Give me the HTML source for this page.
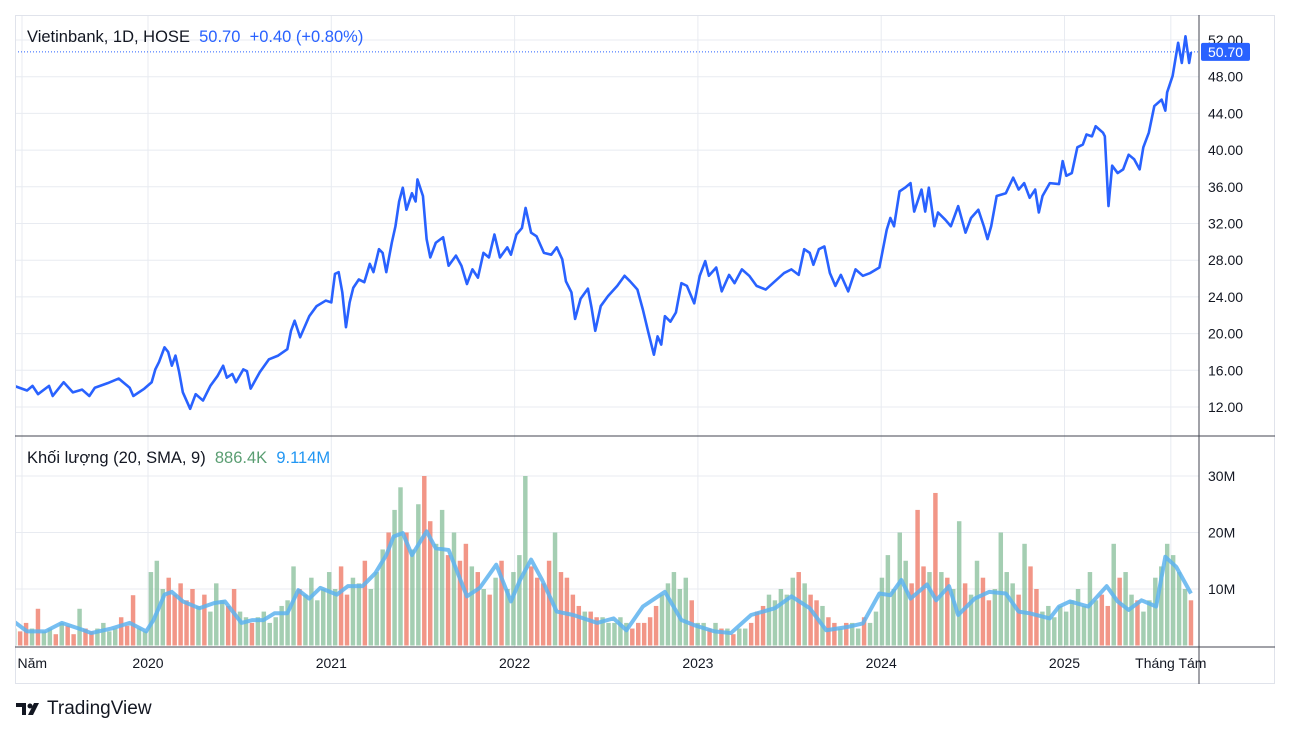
<!DOCTYPE html>
<html><head><meta charset="utf-8"><style>
body{margin:0;background:#fff;width:1289px;height:735px;overflow:hidden;font-family:"Liberation Sans","DejaVu Sans",sans-serif}
svg{position:absolute;left:0;top:0}
</style></head><body>
<svg id="c" width="1289" height="735"></svg>
<script>
const NS="http://www.w3.org/2000/svg";
// price series: [year, price]
const priceYears=[2019.27,2019.34,2019.37,2019.40,2019.46,2019.48,2019.54,2019.59,2019.64,2019.68,2019.71,2019.78,2019.84,2019.90,2019.92,2019.98,2020.02,2020.04,2020.06,2020.09,2020.11,2020.13,2020.15,2020.17,2020.19,2020.23,2020.26,2020.30,2020.34,2020.38,2020.41,2020.43,2020.46,2020.48,2020.52,2020.54,2020.56,2020.61,2020.66,2020.71,2020.76,2020.78,2020.80,2020.83,2020.88,2020.92,2020.97,2021.00,2021.02,2021.04,2021.06,2021.08,2021.10,2021.12,2021.15,2021.18,2021.21,2021.23,2021.26,2021.28,2021.30,2021.33,2021.35,2021.37,2021.39,2021.41,2021.44,2021.46,2021.47,2021.50,2021.52,2021.54,2021.57,2021.61,2021.64,2021.68,2021.71,2021.74,2021.77,2021.80,2021.83,2021.86,2021.89,2021.92,2021.96,2021.98,2022.01,2022.04,2022.06,2022.09,2022.12,2022.16,2022.20,2022.23,2022.26,2022.28,2022.31,2022.33,2022.36,2022.40,2022.42,2022.44,2022.47,2022.51,2022.56,2022.60,2022.63,2022.67,2022.70,2022.73,2022.76,2022.78,2022.80,2022.82,2022.85,2022.88,2022.91,2022.94,2022.98,2023.01,2023.04,2023.06,2023.10,2023.13,2023.17,2023.20,2023.24,2023.28,2023.32,2023.37,2023.42,2023.47,2023.51,2023.55,2023.58,2023.61,2023.63,2023.66,2023.69,2023.72,2023.75,2023.78,2023.82,2023.86,2023.90,2023.94,2023.99,2024.03,2024.05,2024.07,2024.10,2024.13,2024.16,2024.18,2024.22,2024.24,2024.26,2024.29,2024.31,2024.35,2024.38,2024.42,2024.46,2024.49,2024.53,2024.56,2024.58,2024.60,2024.63,2024.68,2024.72,2024.75,2024.78,2024.81,2024.84,2024.86,2024.88,2024.92,2024.97,2024.99,2025.01,2025.04,2025.07,2025.10,2025.12,2025.15,2025.17,2025.21,2025.22,2025.24,2025.26,2025.29,2025.32,2025.35,2025.38,2025.41,2025.43,2025.46,2025.49,2025.53,2025.55,2025.56,2025.59,2025.62,2025.64,2025.66,2025.68,2025.69];
const priceValues=[14.3,13.8,14.3,13.4,14.3,13.2,14.7,13.6,13.9,13.2,14.1,14.6,15.1,14.1,13.2,14.0,14.7,16.1,16.9,18.5,18.0,16.5,17.6,15.8,13.6,11.8,13.4,12.7,14.3,15.4,16.5,15.2,15.6,14.7,16.1,15.9,14.0,15.8,17.2,17.6,18.3,20.3,21.4,19.6,21.9,23.0,23.6,23.4,26.5,26.7,24.5,20.7,23.4,25.0,25.9,25.6,27.6,26.7,29.2,28.8,26.7,29.9,31.7,34.4,35.9,33.5,35.3,34.4,36.8,35.0,30.3,28.3,29.9,30.5,27.4,28.5,27.4,25.4,27.0,26.1,28.8,28.3,30.8,28.3,29.4,28.6,30.8,31.5,33.7,31.0,30.6,28.8,28.6,29.4,28.1,25.7,24.5,21.6,23.8,24.9,22.8,20.3,23.0,24.1,25.2,26.3,25.7,24.8,22.6,20.1,17.7,19.7,18.8,21.9,21.3,22.3,25.5,25.2,23.3,26.3,27.9,26.3,27.2,24.6,26.4,25.5,27.0,26.3,25.2,24.8,25.7,26.6,27.0,26.4,29.2,28.8,27.5,29.2,29.5,26.6,25.2,26.4,24.6,27.0,26.3,26.6,27.2,31.3,32.6,31.7,35.5,35.9,36.4,33.3,35.7,33.3,35.9,31.7,33.2,32.4,31.7,33.9,31.0,32.6,33.5,31.7,30.3,31.7,35.0,35.3,37.0,35.7,36.4,34.8,35.7,33.2,35.0,36.4,36.3,38.8,37.2,37.5,40.3,40.6,41.7,41.5,42.6,41.9,41.5,33.9,38.3,37.5,37.9,39.5,39.0,37.9,40.3,41.9,44.8,45.5,44.3,46.3,48.1,51.7,49.5,52.4,49.5,50.7];
// volume (millions), uniform step from 2019.27 to 2025.69
const volumeValues=[3,2.5,4,3,6.5,2.5,3,2,4,3.5,2,6.5,3,2.5,3,4,2.5,3,5,3.5,8.9,3,2.5,
13,15,10,12,9,11,
8,10,7,9,6,11,8,7,10,6,5,
4,5,6,4,5,7,
8,14,10,9,12,8,10,13,
10,14,9,12,11,15,10,13,17,
20,24,28,20,17,25,30,22,18,
24,16,20,15,18,14,13,10,9,
12,15,10,13,16,30,14,12,11,
15,20,13,12,9,7,6,6,5,
5,4,4,5,4,3,4,4,
5,7,9,11,13,10,12,8,
4,4,3,4,3,3,2,3,3,
4,6,7,9,8,10,9,12,13,
11,9,8,7,5,4,3,4,
4,3,5,4,6,
12,16,10,20,15,11,24,14,13,
27,13,12,10,22,11,9,15,12,
8,10,20,13,11,9,18,14,10,
6,7,5,
7,6,8,10,7,13,8,9,7,
18,12,13,9,8,6,8,12,
14,18,16,13,10,8];
const volStart=2019.27, volEnd=2025.69;
// volume SMA: [year, value]
const smaYears=[2019.27,2019.34,2019.44,2019.53,2019.65,2019.69,2019.80,2019.90,2019.99,2020.03,2020.09,2020.13,2020.19,2020.28,2020.36,2020.42,2020.51,2020.57,2020.63,2020.69,2020.76,2020.82,2020.88,2020.94,2021.03,2021.09,2021.17,2021.24,2021.30,2021.34,2021.39,2021.44,2021.52,2021.57,2021.64,2021.74,2021.81,2021.90,2021.98,2022.03,2022.09,2022.15,2022.23,2022.32,2022.45,2022.54,2022.61,2022.70,2022.82,2022.91,2022.98,2023.09,2023.18,2023.29,2023.42,2023.51,2023.61,2023.70,2023.82,2023.90,2023.99,2024.05,2024.11,2024.16,2024.25,2024.30,2024.37,2024.42,2024.51,2024.59,2024.68,2024.75,2024.81,2024.92,2024.97,2025.03,2025.13,2025.23,2025.29,2025.35,2025.42,2025.50,2025.55,2025.61,2025.69];
const smaValues=[4.2,2.5,2.5,4.0,2.7,2.2,3.0,4.0,2.5,4.5,9.0,9.5,7.8,6.6,7.5,7.8,4.0,4.5,4.5,5.7,5.7,9.8,8.3,10.2,9.0,10.5,10.5,12.8,16.0,19.3,19.9,16.0,20.2,17.2,16.9,8.7,10.2,14.3,7.8,11.6,15.2,11.6,6.0,5.4,4.0,4.8,2.7,6.9,9.5,4.5,3.6,2.5,2.2,5.4,6.6,8.7,6.6,2.7,3.3,3.9,9.2,8.9,11.6,8.3,10.8,8.0,10.5,5.4,8.3,9.5,9.2,6.0,5.7,4.8,6.9,7.8,6.9,10.5,7.8,6.3,8.0,6.9,15.7,13.9,9.2];
const priceTicks=[12,16,20,24,28,32,36,40,44,48,52];
const volTicks=[10,20,30];
const timeLabels=["ng Năm","2020","2021","2022","2023","2024","2025","Tháng Tám"];
const timeLabelYears=[2019.34,2020,2021,2022,2023,2024,2025,2025.58];

const xOf=t=>148+(t-2020)*183.3;
const yP=p=>40+(52-p)*9.175;
const yV=v=>645.5-v*5.65;
const svg=document.getElementById('c');
function el(tag,attrs,parent){const e=document.createElementNS(NS,tag);for(const k in attrs)e.setAttribute(k,attrs[k]);(parent||svg).appendChild(e);return e;}

const defs=el('defs',{});
const cp1=el('clipPath',{id:'cp'},defs);el('rect',{x:15,y:15,width:1184,height:421},cp1);
const cp2=el('clipPath',{id:'cv'},defs);el('rect',{x:15,y:437,width:1184,height:210},cp2);

const grid=el('g',{});


priceTicks.forEach(p=>el('line',{x1:15,x2:1199,y1:yP(p),y2:yP(p),stroke:'#e8ebf1','stroke-width':1},grid));
volTicks.forEach(v=>el('line',{x1:15,x2:1199,y1:yV(v),y2:yV(v),stroke:'#e8ebf1','stroke-width':1},grid));
timeLabelYears.forEach(t=>{const x=t<2020?22:xOf(t);el('line',{x1:x,x2:x,y1:15,y2:647,stroke:'#e8ebf1','stroke-width':1},grid);});

function priceAt(t){if(t<=priceYears[0])return priceValues[0];for(let i=1;i<priceYears.length;i++){if(t<=priceYears[i]){const f=(t-priceYears[i-1])/(priceYears[i]-priceYears[i-1]);return priceValues[i-1]+f*(priceValues[i]-priceValues[i-1]);}}return priceValues[priceValues.length-1];}

const vg=el('g',{'clip-path':'url(#cv)'});


const step=(volEnd-volStart)/(volumeValues.length-1);
const bw=step*183.3*0.75;
volumeValues.forEach((v,i)=>{const t=volStart+i*step;const up=priceAt(t)>=priceAt(t-step);
 const r=el('rect',{x:xOf(t)-bw/2,y:yV(v),width:bw,height:645.5-yV(v),fill:up?'#86bd98':'#ee735f','fill-opacity':0.75},vg);
 
 });

const sma=el('polyline',{points:smaYears.map((t,i)=>xOf(t)+','+yV(smaValues[i])).join(' '),fill:'none',stroke:'#5eb3ef','stroke-width':4,'stroke-opacity':0.85,'stroke-linejoin':'round','clip-path':'url(#cv)'});



const lastP=priceValues[priceValues.length-1];
el('line',{x1:15,x2:1199,y1:yP(lastP),y2:yP(lastP),stroke:'#2962ff','stroke-width':1,'stroke-dasharray':'1 2'});
const pl=el('polyline',{points:priceYears.map((t,i)=>xOf(t)+','+yP(priceValues[i])).join(' '),fill:'none',stroke:'#2962ff','stroke-width':2.6,'stroke-linejoin':'round','clip-path':'url(#cp)'});



el('rect',{x:15.5,y:15.5,width:1259,height:668,fill:'none',stroke:'#e0e3eb'});
el('line',{x1:15,x2:1275,y1:436,y2:436,stroke:'#434651','stroke-width':1});
el('line',{x1:15,x2:1275,y1:647,y2:647,stroke:'#434651','stroke-width':1});
el('line',{x1:1199,x2:1199,y1:15,y2:684,stroke:'#434651','stroke-width':1});

const ax=el('g',{'font-size':14,fill:'#131722'});


priceTicks.forEach(p=>{const t=el('text',{x:1208,y:yP(p)+5},ax);t.textContent=p.toFixed(2);});
volTicks.forEach(v=>{const t=el('text',{x:1208,y:yV(v)+5},ax);t.textContent=v+'M';});
const tag=el('rect',{x:1201,y:yP(lastP)-9,width:49,height:18,rx:2,fill:'#2962ff'});


const tt=el('text',{x:1208,y:yP(lastP)+5,fill:'#fff','font-size':14});tt.textContent=lastP.toFixed(2);

const tx=el('g',{'font-size':14,fill:'#131722','text-anchor':'middle'});


timeLabels.forEach((l,i)=>{const x=i===0?-2:xOf(timeLabelYears[i]);const t=el('text',{x:x,y:668},tx);if(i===0)t.setAttribute('text-anchor','start');t.textContent=l;});
el('rect',{x:0,y:648,width:15,height:36,fill:'#fff'});
</script>
<div style="position:absolute;left:27px;top:28px;font-size:16.5px;color:#131722;white-space:nowrap">Vietinbank, 1D, HOSE&nbsp;&nbsp;<span style="color:#2962ff">50.70&nbsp;&nbsp;+0.40 (+0.80%)</span></div>
<div style="position:absolute;left:27px;top:449px;font-size:16.5px;color:#131722;white-space:nowrap">Khối lượng (20, SMA, 9)&nbsp;&nbsp;<span style="color:#5a9e72">886.4K</span>&nbsp;&nbsp;<span style="color:#2196f3">9.114M</span></div>
<div style="position:absolute;left:16px;top:698px;font-size:19px;color:#131722;white-space:nowrap;display:flex;align-items:center">
<svg width="26" height="16" style="position:static;margin-right:5px"><rect x="0" y="2" width="10" height="4" fill="#131722"/><rect x="6" y="2" width="4" height="12" fill="#131722"/><circle cx="14" cy="5" r="2.5" fill="#131722"/><polygon points="18,2 23,2 17,14 12,14" fill="#131722"/></svg>TradingView</div>
</body></html>
